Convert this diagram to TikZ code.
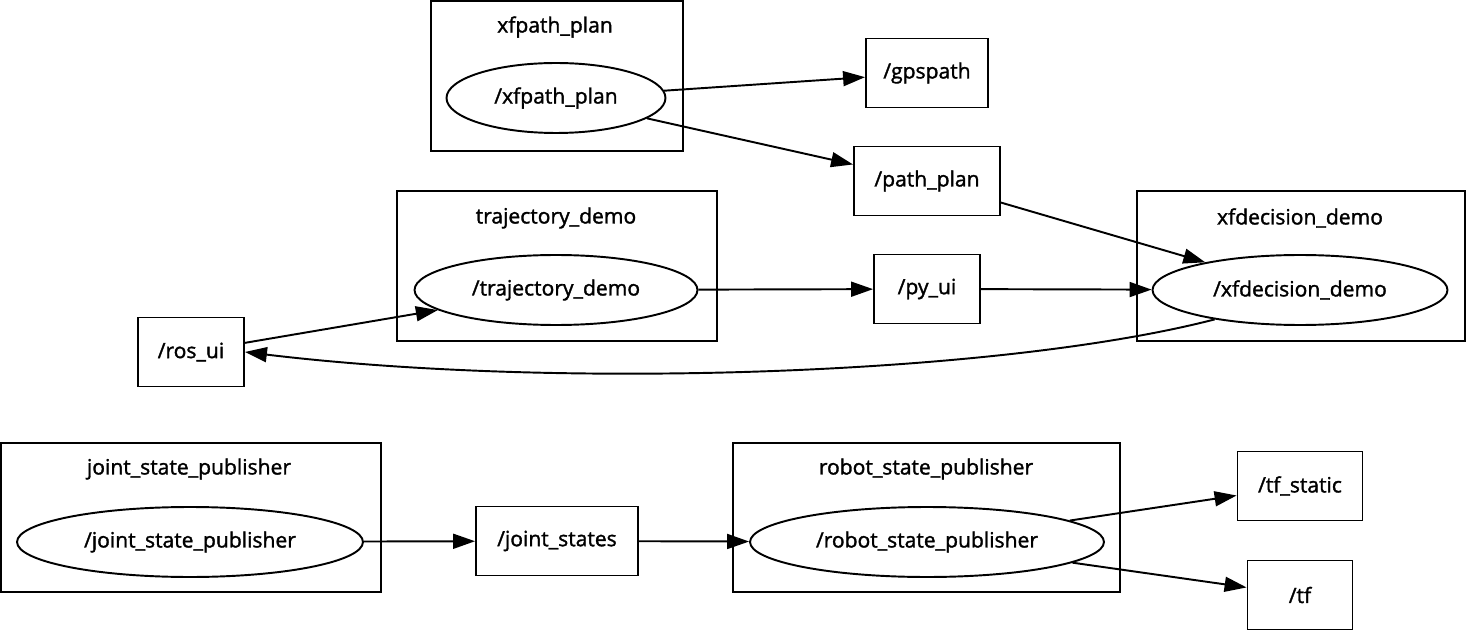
\documentclass[tikz,border=0pt]{standalone}
\usepackage{fontspec}
\setmainfont{Open Sans}
\newfontfamily\graphfont{Open Sans}[FakeBold=1.5]
\usetikzlibrary{arrows.meta,shapes.geometric}

\begin{document}
\begin{tikzpicture}[x=0.02cm,y=-0.02cm,line width=1.1pt,>={Triangle[length=12.5pt,width=8.5pt]},
  font=\graphfont\fontsize{12pt}{14pt}\selectfont,
  topic/.style={draw,rectangle,inner sep=0pt,minimum height=1.38cm},
  rosnode/.style={draw,ellipse,inner sep=0pt,minimum height=1.4cm},
  cluster/.style={draw}]
  \useasboundingbox (0,0) rectangle (1466,631);
  % xfpath_plan
  \draw[cluster] (431,1) rectangle (683,151);
  \node (lxfpath) at (555,27){xfpath\_plan};
  \node[rosnode,minimum width=4.38cm] (xfpath) at (556,98){/xfpath\_plan};
  \node[topic,minimum width=2.44cm] (gpspath) at (927,73){/gpspath};
  \node[topic,minimum width=2.92cm] (pathplan) at (927,181){/path\_plan};
  % trajectory_demo
  \draw[cluster] (397,191) rectangle (717,341);
  \node (ltraj) at (556,218){trajectory\_demo};
  \node[rosnode,minimum width=5.66cm] (traj) at (556,290){/trajectory\_demo};
  \node[topic,minimum width=2.12cm] (pyui) at (927,289){/py\_ui};
  % xfdecision_demo
  \draw[cluster] (1137,191) rectangle (1465,341);
  \node (lxfdec) at (1300,218){xfdecision\_demo};
  \node[rosnode,minimum width=5.9cm] (xfdec) at (1300,290){/xfdecision\_demo};
  \node[topic,minimum width=2.12cm] (rosui) at (191,352){/ros\_ui};
  % joint_state_publisher
  \draw[cluster] (1,443) rectangle (381,592);
  \node (ljsp) at (189,469){joint\_state\_publisher};
  \node[rosnode,minimum width=6.92cm] (jsp) at (190,542){/joint\_state\_publisher};
  \node[topic,minimum width=3.24cm] (jstates) at (557,541){/joint\_states};
  % robot_state_publisher
  \draw[cluster] (733,443) rectangle (1120,592);
  \node (lrsp) at (926,469){robot\_state\_publisher};
  \node[rosnode,minimum width=7.08cm] (rsp) at (927,542){/robot\_state\_publisher};
  \node[topic,minimum width=2.5cm] (tfstatic) at (1300,486){/tf\_static};
  \node[topic,minimum width=2.1cm] (tf) at (1300,595){/tf};
  % edges
  \draw[->] (xfpath) -- (gpspath);
  \draw[->] (xfpath) -- (pathplan);
  \draw[->] (pathplan) -- (xfdec);
  \draw[->] (traj) -- (pyui);
  \draw[->] (pyui) -- (xfdec);
  \draw[->] (rosui) -- (traj);
  \draw[->] (xfdec.199) .. controls (1000,375) and (560,390) .. (rosui.east);
  \draw[->] (jsp) -- (jstates);
  \draw[->] (jstates) -- (rsp);
  \draw[->] (rsp) -- (tfstatic);
  \draw[->] (rsp) -- (tf);
\end{tikzpicture}
\end{document}
